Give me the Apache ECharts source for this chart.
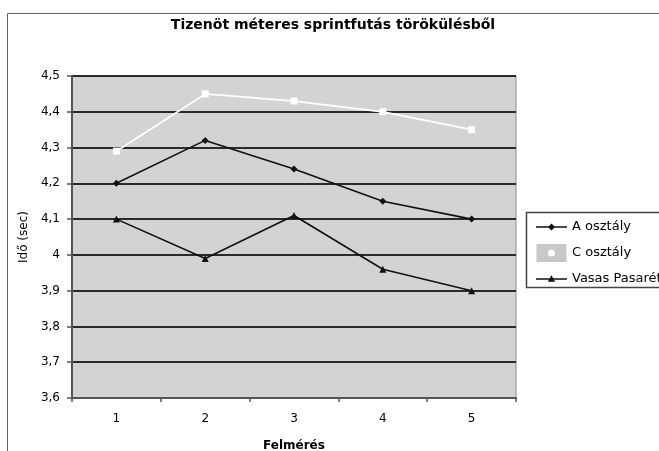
<!DOCTYPE html>
<html>
<head>
<meta charset="utf-8">
<script src="https://cdn.jsdelivr.net/npm/echarts@6/dist/echarts.min.js"></script>
<style>
  html, body { margin: 0; padding: 0; background: #fff; }
  #chart { width: 659px; height: 451px; }
</style>
</head>
<body>
<div id="chart"></div>
<script>
// Measurement rounds (x axis) and sprint times in seconds
const rounds = ['1', '2', '3', '4', '5'];
const aOsztaly = [4.20, 4.32, 4.24, 4.15, 4.10];
const cOsztaly = [4.29, 4.45, 4.43, 4.40, 4.35];
const vasasPasareti = [4.10, 3.99, 4.11, 3.96, 3.90];
const seriesNames = ['A osztály', 'C osztály', 'Vasas Pasaréti'];

const FONT = 'DejaVu Sans';

// Legend keys: a short line with a small marker in the middle (31x18 box,
// the corner specks pin the box so the marker keeps its proportions)
const BOX = 'M0,0L0.01,0L0,0.01Z M31,18L30.99,18L31,17.99Z ';
const LINE = 'M0,8.3H31V9.7H0Z ';
const iconDiamond = 'path://' + BOX + LINE + 'M15.5,5.5L19,9L15.5,12.5L12,9Z';
const iconTriangle = 'path://' + BOX + LINE + 'M15.5,5.2L19.2,11.8L11.8,11.8Z';
const iconSwatch = 'path://M0,0H30V18H0Z M15,5.5A3.5,3.5 0 1,0 15,12.5A3.5,3.5 0 1,0 15,5.5Z';

const chart = echarts.init(document.getElementById('chart'), null, { renderer: 'canvas' });

chart.setOption({
  animation: false,
  backgroundColor: '#ffffff',
  title: {
    text: 'Tizenöt méteres sprintfutás törökülésből',
    left: 328,
    textAlign: 'center',
    top: 13,
    textStyle: { fontFamily: FONT, fontSize: 14, fontWeight: 'bold', color: '#000' }
  },
  graphic: [
    // outer chart frame
    { type: 'rect', shape: { x: 7.5, y: 13.5, width: 700, height: 500 },
      style: { fill: 'none', stroke: '#666', lineWidth: 1 }, z: 0 },
    // legend frame
    { type: 'rect', shape: { x: 526.5, y: 212.5, width: 200, height: 75 },
      style: { fill: '#fff', stroke: '#444', lineWidth: 1.5 }, z: 0 }
  ],
  legend: {
    orient: 'vertical',
    left: 531,
    top: 213,
    itemGap: 8,
    itemWidth: 31,
    itemHeight: 18,
    textStyle: { fontFamily: FONT, fontSize: 13, color: '#000' },
    data: [
      { name: seriesNames[0], icon: iconDiamond, itemStyle: { color: '#111' } },
      { name: seriesNames[1], icon: iconSwatch, itemStyle: { color: '#c8c8c8' } },
      { name: seriesNames[2], icon: iconTriangle, itemStyle: { color: '#111' } }
    ]
  },
  grid: {
    left: 72, right: 143, top: 76, bottom: 53,
    outerBoundsMode: 'none',
    containLabel: false,
    show: true,
    backgroundColor: '#d3d3d3',
    borderColor: '#8a8a8a',
    borderWidth: 1
  },
  xAxis: {
    type: 'category',
    data: rounds,
    boundaryGap: true,
    name: 'Felmérés',
    nameLocation: 'middle',
    nameGap: 42,
    nameTextStyle: { fontFamily: FONT, fontSize: 12, fontWeight: 'bold', color: '#000' },
    axisLine: { lineStyle: { color: '#555', width: 2 } },
    axisTick: { show: true, alignWithLabel: false, length: 4, lineStyle: { color: '#555', width: 1.5 } },
    axisLabel: { fontFamily: FONT, fontSize: 12, color: '#000', margin: 15 },
    splitLine: { show: false }
  },
  yAxis: {
    type: 'value',
    min: 3.6,
    max: 4.5,
    interval: 0.1,
    name: 'Idő (sec)',
    nameLocation: 'middle',
    nameRotate: 90,
    nameGap: 36,
    nameTextStyle: { fontFamily: FONT, fontSize: 12, color: '#000' },
    axisLine: { show: true, lineStyle: { color: '#555', width: 2 } },
    axisTick: { show: true, length: 5, lineStyle: { color: '#555', width: 1.5 } },
    axisLabel: {
      fontFamily: FONT, fontSize: 12, color: '#000', margin: 12,
      formatter: v => String(Math.round(v * 10) / 10).replace('.', ',')
    },
    splitLine: { show: true, lineStyle: { color: '#2a2a2a', width: 1.8 } }
  },
  series: [
    {
      name: seriesNames[0], type: 'line', data: aOsztaly,
      symbol: 'diamond', symbolSize: 7,
      lineStyle: { color: '#111', width: 1.6 },
      itemStyle: { color: '#111' }, z: 3
    },
    {
      name: seriesNames[1], type: 'line', data: cOsztaly,
      symbol: 'rect', symbolSize: 7,
      lineStyle: { color: '#ffffff', width: 1.8 },
      itemStyle: { color: '#ffffff' }, z: 3
    },
    {
      name: seriesNames[2], type: 'line', data: vasasPasareti,
      symbol: 'triangle', symbolSize: 7,
      lineStyle: { color: '#111', width: 1.6 },
      itemStyle: { color: '#111' }, z: 3
    }
  ]
});
</script>
</body>
</html>
